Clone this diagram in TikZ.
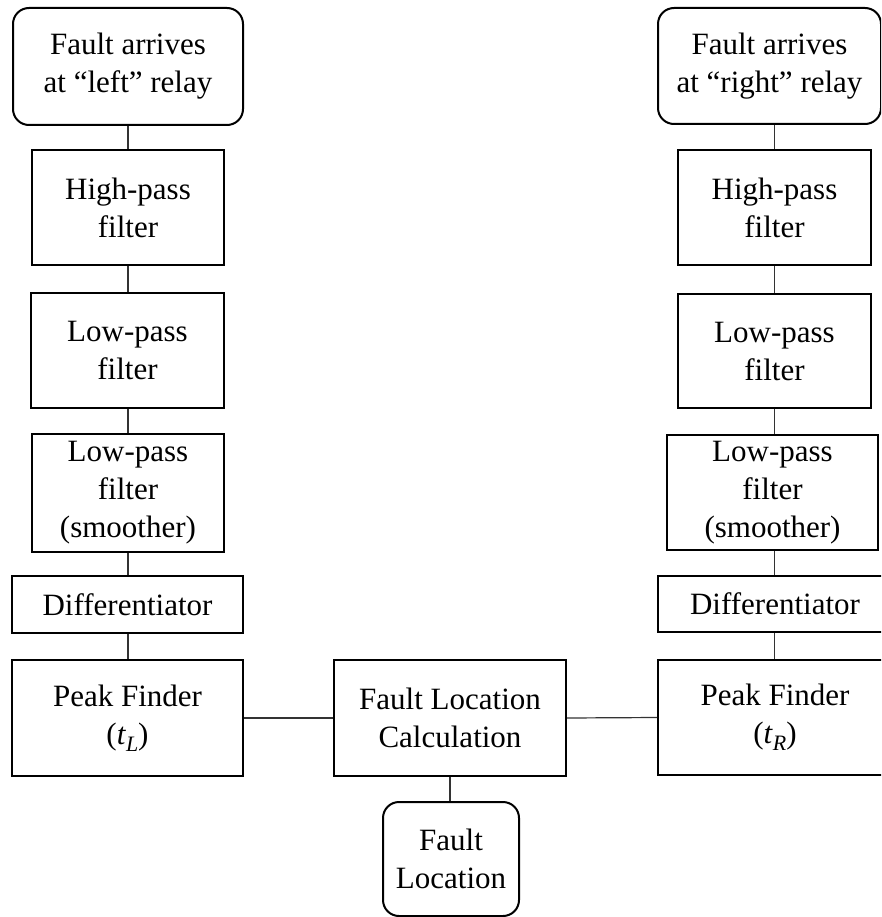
\documentclass[tikz,border=0pt]{standalone}
\usepackage{fontspec}
\setmainfont{Liberation Serif}[Ligatures=TeX]
\newfontfamily\tms{Liberation Serif}[Ligatures=TeX]
\newcommand{\tsub}[2]{(\textit{#1}\raisebox{-0.22em}{\fontsize{22}{22}\selectfont\textit{#2}})}
\begin{document}
\begin{tikzpicture}[x=1pt,y=-1pt,
  blk/.style={draw, line width=2pt, inner sep=0pt, align=center,
    font=\tms\fontsize{31}{38}\selectfont},
  rblk/.style={blk, rounded corners=16pt},
  link/.style={line width=1.2pt, draw=black!80}]
\useasboundingbox (0,0) rectangle (881,917);
\clip (0,0) rectangle (881,917);
% left column
\node[rblk, minimum width=230pt, minimum height=117pt] (L1) at (128,66.5) {Fault arrives\\at ``left'' relay};
\node[blk, minimum width=192pt, minimum height=115pt] (L2) at (128,207.5) {High-pass\\filter};
\node[blk, minimum width=193pt, minimum height=115pt] (L3) at (127.5,350.5) {Low-pass\\filter};
\node[blk, minimum width=192pt, minimum height=118pt] (L4) at (128,493) {Low-pass\\filter\\(smoother)};
\node[blk, minimum width=231pt, minimum height=57pt] (L5) at (127.5,604.5) {Differentiator};
\node[blk, minimum width=231pt, minimum height=116pt] (L6) at (127.5,718) {Peak Finder\\\tsub{t}{L}};
% right column
\node[rblk, minimum width=223pt, minimum height=116pt] (R1) at (769.5,66) {Fault arrives\\at ``right'' relay};
\node[blk, minimum width=193pt, minimum height=115pt] (R2) at (774.5,207.5) {High-pass\\filter};
\node[blk, minimum width=193pt, minimum height=114pt] (R3) at (774.5,351) {Low-pass\\filter};
\node[blk, minimum width=211pt, minimum height=115pt] (R4) at (772.5,492.5) {Low-pass\\filter\\(smoother)};
\node[blk, minimum width=234pt, minimum height=56pt] (R5) at (775,604) {Differentiator};
\node[blk, minimum width=234pt, minimum height=115pt] (R6) at (775,717.5) {Peak Finder\\\tsub{t}{R}};
% centre
\node[blk, minimum width=232pt, minimum height=116pt] (C1) at (450,718) {Fault Location\\Calculation};
\node[rblk, minimum width=136pt, minimum height=114pt] (C2) at (451,859) {Fault\\Location};
% connectors left
\draw[link] (L1.south) -- (L1.south |- L2.north);
\draw[link] (L2.south) -- (L2.south |- L3.north);
\draw[link] (L2.south |- L3.south) -- (L2.south |- L4.north);
\draw[link] (L4.south) -- (L4.south |- L5.north);
\draw[link] (L4.south |- L5.south) -- (L4.south |- L6.north);
% connectors right
\draw[link] (R2.north |- R1.south) -- (R2.north);
\draw[link] (R2.south) -- (R2.south |- R3.north);
\draw[link] (R3.south) -- (R3.south |- R4.north);
\draw[link] (R3.south |- R4.south) -- (R3.south |- R5.north);
\draw[link] (R3.south |- R5.south) -- (R3.south |- R6.north);
% centre connectors
\draw[link] (L6.east) -- (C1.west);
\draw[link] (C1.east) -- (R6.west);
\draw[link] (C1.south) -- (C1.south |- C2.north);
\end{tikzpicture}
\end{document}
